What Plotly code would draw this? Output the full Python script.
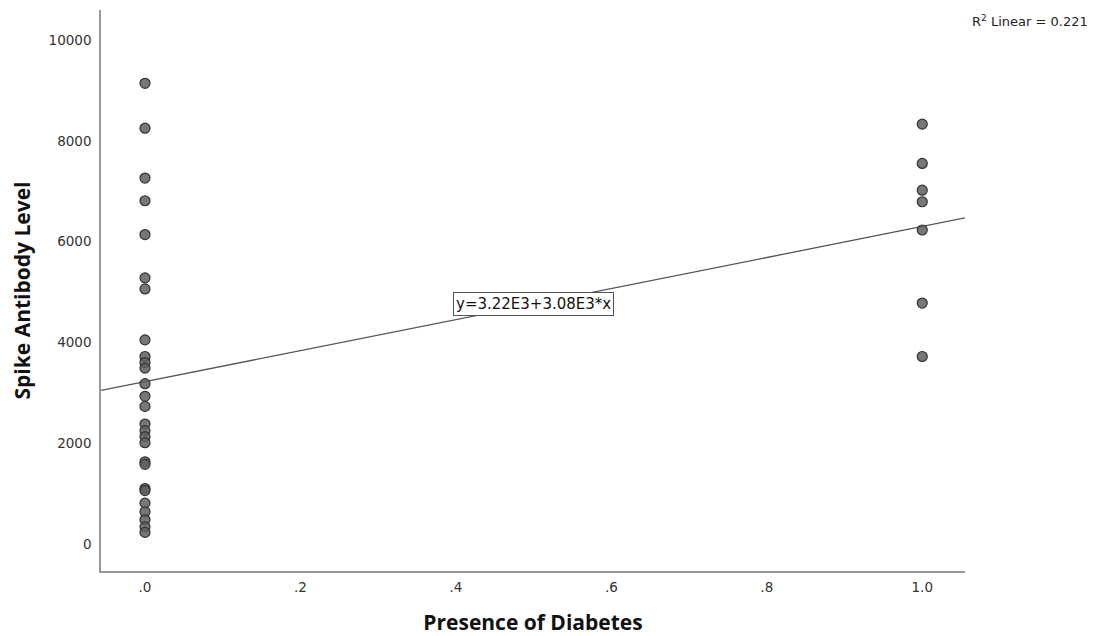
import plotly.graph_objects as go

# Data
no_diabetes_antibody = [9140, 8250, 7260, 6810, 6140, 5280, 5060, 4050, 3720, 3600,
                        3490, 3180, 2930, 2730, 2380, 2250, 2130, 2010, 1630, 1580,
                        1100, 1060, 810, 640, 480, 340, 230]
diabetes_antibody = [8330, 7550, 7020, 6790, 6230, 4780, 3720]
x_ticks = [0.0, 0.2, 0.4, 0.6, 0.8, 1.0]
x_tick_labels = [".0", ".2", ".4", ".6", ".8", "1.0"]
y_ticks = [0, 2000, 4000, 6000, 8000, 10000]
y_tick_labels = ["0", "2000", "4000", "6000", "8000", "10000"]
fit_intercept = 3220
fit_slope = 3080
r2_linear = 0.221

x_range = [-0.0566, 1.055]
y_range = [-536, 10595]

xs = [0.0] * len(no_diabetes_antibody) + [1.0] * len(diabetes_antibody)
ys = no_diabetes_antibody + diabetes_antibody

fig = go.Figure()
fig.add_trace(go.Scatter(
    x=x_range,
    y=[fit_intercept + fit_slope * v for v in x_range],
    mode="lines",
    line=dict(color="#555555", width=1.3),
    hoverinfo="skip",
    showlegend=False,
))
fig.add_trace(go.Scatter(
    x=xs, y=ys, mode="markers",
    marker=dict(size=10, color="rgba(95,95,95,0.85)",
                line=dict(color="#333333", width=1.2)),
    showlegend=False,
))

fig.add_annotation(
    x=0.5, y=fit_intercept + fit_slope * 0.5, xref="x", yref="y",
    text=f"y={fit_intercept/1000:.2f}E3+{fit_slope/1000:.2f}E3*x",
    showarrow=False, bgcolor="white", bordercolor="#555555", borderwidth=1,
    borderpad=2, font=dict(family="DejaVu Sans", size=15, color="#111111"),
)
fig.add_annotation(
    x=1.1447, y=0.998, xref="paper", yref="paper", xanchor="right",
    text=f"R<sup>2</sup> Linear = {r2_linear}",
    showarrow=False, font=dict(family="DejaVu Sans", size=13, color="#222222"),
)

# page body has an 8px margin: compensate so the plot area lands where the reference has it
fig.update_layout(
    width=1087, height=628,
    margin=dict(l=93, r=130, t=2, b=65),
    plot_bgcolor="white", paper_bgcolor="white",
    font=dict(family="DejaVu Sans", color="#333333"),
)
fig.update_xaxes(
    range=x_range, tickvals=x_ticks, ticktext=x_tick_labels,
    showgrid=False, zeroline=False, showline=True, linecolor="#999999", linewidth=1.5,
    ticks="", tickfont=dict(size=13.5, color="#333333"), ticklabelstandoff=3, automargin=False,
    title=dict(text="<b>Presence of Diabetes</b>",
               font=dict(family="Open Sans", size=21, color="#111111"), standoff=24),
)
fig.update_yaxes(
    range=y_range, tickvals=y_ticks, ticktext=y_tick_labels,
    showgrid=False, zeroline=False, showline=True, linecolor="#999999", linewidth=1.5,
    ticks="", tickfont=dict(size=13.5, color="#333333"), ticklabelstandoff=5, automargin=False,
    title=dict(text="<b>Spike Antibody Level</b>",
               font=dict(family="Open Sans", size=21, color="#111111"), standoff=20),
)

fig.write_html("out.html")
